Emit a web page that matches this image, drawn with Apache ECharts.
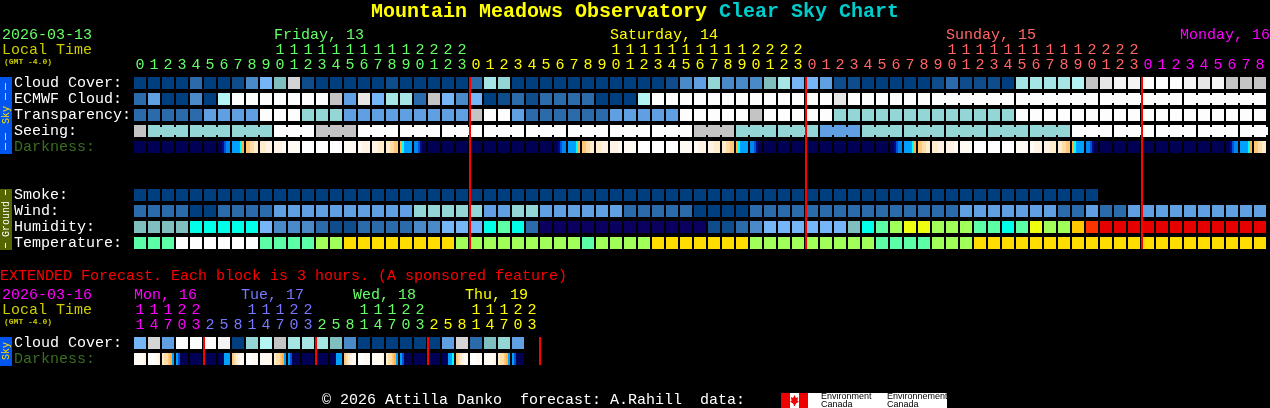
<!DOCTYPE html>
<html>
<head>
<meta charset="utf-8">
<style>html,body{margin:0;padding:0;background:#000;overflow:hidden}#c{width:1270px;height:408px}</style>
<script src="https://cdn.jsdelivr.net/npm/echarts@6/dist/echarts.min.js"></script>
</head>
<body>
<div id="c"></div>
<script>
const FONT = '"Liberation Mono","DejaVu Sans Mono",monospace';

// Colour scale shared by the condition rows (index = condition level).
const levelColors = ['#003f7f','#0e4c8b','#2b6aab','#4a8ac8','#5f9fe2','#76b6f8','#7fbfbf','#94d5d5','#a5e5e5','#b4f4f4',
  '#c4c4c4','#d4d4d4','#e6e6e6','#f4f4f4','#fdfdfd','#0a0060','#00ffe8','#5cffa6','#a0ff58','#eeff10','#ffdd00','#ffc800','#ff3300','#e60000'];
// Colour scale for darkness (index = base-13 character in the strings below).
const darkColors = ['#000055','#000a80','#0050d8','#0088f0','#00a0ff','#00ffff','#ffb040','#ffc878','#ffdca8','#ffeccc','#fff4e4','#fffaf4','#ffffff'];

const rowNames = ['Cloud Cover:','ECMWF Cloud:','Transparency:','Seeing:','Darkness:','','','Smoke:','Wind:','Humidity:','Temperature:'];
const extRowNames = ['Cloud Cover:','Darkness:'];

const hours = ['0','1','2','3','4','5','6','7','8','9','10','11','12','13','14','15','16','17','18','19','20','21','22','23',
  '0','1','2','3','4','5','6','7','8','9','10','11','12','13','14','15','16','17','18','19','20','21','22','23',
  '0','1','2','3','4','5','6','7','8','9','10','11','12','13','14','15','16','17','18','19','20','21','22','23',
  '0','1','2','3','4','5','6','7','8'];
const extHours = ['11','14','17','20','23','2','5','8','11','14','17','20','23','2','5','8','11','14','17','20','23','2','5','8','11','14','17','20','23'];
const hourDayIndex = [0,0,0,0,0,0,0,0,0,0,0,0,0,0,0,0,0,0,0,0,0,0,0,0, 1,1,1,1,1,1,1,1,1,1,1,1,1,1,1,1,1,1,1,1,1,1,1,1,
  2,2,2,2,2,2,2,2,2,2,2,2,2,2,2,2,2,2,2,2,2,2,2,2, 3,3,3,3,3,3,3,3,3];
const dayColors = ['#66ff66','#ffff00','#ff6666','#ff00ff'];
const extDayIndex = [0,0,0,0,0, 1,1,1,1,1,1,1,1, 2,2,2,2,2,2,2,2, 3,3,3,3,3,3,3,3];
const extDayColors = ['#ff00ff','#7777ff','#66ff66','#ffff00'];

const cloudCover = [0,0,0,0,2,0,0,1,3,5, 6,11,1,0,0,0,0,0,1,0, 0,0,0,0,2,8,7,0,0,0, 0,0,0,0,0,0,0,0,1,3,
  4,7,3,3,3,6,8,5,5,4, 1,1,0,0,0,0,0,1,2,1, 1,1,0,8,8,8,8,9,10,12, 13,13,14,14,14,13,12,13,10,10, 10];
const ecmwfCloud = [2,4,0,0,3,0,9,14,14,14, 14,14,14,14,10,4,12,5,8,8, 2,10,5,3,5,0,1,2,1,2, 2,2,2,0,0,0,9,14,14,14,
  14,14,14,14,14,14,14,14,14,14, 12,14,14,14,14,14,14,14,14,14, 14,14,14,14,14,14,14,14,14,14, 14,14,14,14,14,14,14,14,14,14, 14];
const transparency = [2,2,2,2,2,4,4,4,4,14, 14,14,7,7,7,4,4,4,4,4, 4,4,4,4,10,14,14,4,2,2, 2,2,2,2,4,4,4,4,4,14,
  14,14,14,14,10,14,14,14,14,14, 7,7,7,7,7,7,7,7,7,7, 7,7,7,14,14,14,14,14,14,14, 14,14,14,14,14,14,14,14,14,14, 14];
const seeing = [10,7,7,7,7,7,7,7,7,7, 14,14,14,10,10,10,14,14,14,14, 14,14,14,14,14,14,14,14,14,14, 14,14,14,14,14,14,14,14,14,14,
  10,10,10,7,7,7,7,7,7,4, 4,4,7,7,7,7,7,7,7,7, 7,7,7,7,7,7,7,14,14,14, 14,14,14,14,14,14,14,14,14,14, 14];
const darkness = ['0','0','0','0','0','0','001233','444456','778899','999aaa',
  'aaaabb','bbbbbb','cccccc','cccccc','cccccc','bbbbbb','bbaaaa','aaa999','998877','654444',
  '332100','0','0','0','0','0','0','0','0','0',
  '001233','444456','778899','999aaa','aaaabb','bbbbbb','cccccc','cccccc','cccccc','bbbbbb',
  'bbaaaa','aaa999','998877','654444','332100','0','0','0','0','0',
  '0','0','0','0','001233','444456','778899','999aaa','aaaabb','bbbbbb',
  'cccccc','cccccc','cccccc','bbbbbb','bbaaaa','aaa999','998877','654444','332100','0',
  '0','0','0','0','0','0','0','0','001233','444456','778899'];
const smoke = [0,0,0,0,0,0,0,0,0,0, 0,0,0,0,0,0,0,0,0,0, 0,0,0,0,0,0,0,0,0,0, 0,0,0,0,0,0,0,0,0,0,
  0,0,0,0,0,0,0,0,0,0, 0,0,0,0,0,0,0,0,0,0, 0,0,0,0,0,0,0,0,0];
const wind = [2,2,2,2,0,0,2,2,2,2, 4,4,4,4,4,4,4,4,4,4, 7,7,7,7,7,4,4,7,7,4, 4,4,4,4,4,2,2,2,2,2,
  0,0,0,0,2,2,2,2,2,2, 2,2,2,2,2,2,2,2,2,4, 4,4,4,4,4,4,2,2,4,2, 2,4,4,4,4,4,4,4,4,4, 4];
const humidity = [6,6,6,6,16,16,16,16,16,5, 3,3,3,2,1,1,2,2,2,2, 3,3,5,5,5,16,17,16,2,15, 15,15,15,15,15,15,15,15,15,15,
  15,1,1,2,3,5,5,5,5,5, 5,6,16,17,18,19,19,18,18,18, 17,17,16,17,19,18,18,21,22,23, 23,23,23,23,23,23,23,23,23,23, 23];
const temperature = [17,17,17,14,14,14,14,14,14,17, 17,17,17,18,18,20,20,20,20,20, 20,20,20,18,18,18,18,18,18,18, 18,18,17,18,18,18,18,20,20,20,
  20,20,20,20,18,18,18,18,18,18, 18,18,18,17,17,17,17,18,18,18, 20,20,20,20,20,20,20,20,20,20, 20,20,20,20,20,20,20,20,20,20, 20];

const extCloudCover = [5,11,4,14,14,14,13,0,7,9, 10,8,8,8,6,3,0,0,0,0, 0,0,4,11,2,6,7,4];
const extDarkness = ['bbbbba','cccbba','988764','420000','0','0','000444','789abb','cccbbb','bbbbba',
  '988764','420000','0','0','000444','789abb','cccbbb','bbbbba','988764','420000',
  '0','0','000445','789abb','cccbbb','bbbbba','988764','420000'];

// Columns joined to the next one by a narrow bridge (blocks of one model run).
const seeingBlockStarts = [1,4,7,10,13,16,19,22,25,28,31,34,37,40,43,46,49,52,55,58,61,64,67,70,73,76,79];
const seeingBlockSize = 3;
const ecmwfBlockStarts = [57,63,69,75];
const ecmwfBlockSize = 6;
const dayEndColumns = [23,47,71];
const extDayEndColumns = [4,12,20,28];

const titleMain = 'Mountain Meadows Observatory';
const titleSub = 'Clear Sky Chart';

function bridged(col, starts, size){
  return starts.some(s => col >= s && col < s + size - 1) ? 1 : 0;
}
function rowData(values, row, starts, size){
  return values.map((v, i) => [i, row, v, starts ? bridged(i, starts, size) : 0]);
}
function renderCell(params, api){
  const p = api.coord([api.value(0), api.value(1)]);
  const s = api.size([1,1]);
  const x = p[0] - 6, y = p[1] - 6, w = s[0] - 2, h = s[1] - 4;
  const fill = levelColors[api.value(2)];
  const children = [{type:'rect', shape:{x, y, width:w, height:h}, style:{fill}}];
  if (api.value(3)) children.push({type:'rect', shape:{x:x+w, y:y+2, width:2, height:h-4}, style:{fill}});
  return {type:'group', children};
}
function darkRenderer(samples){
  return function(params, api){
    const p = api.coord([api.value(0), api.value(1)]);
    const s = api.size([1,1]);
    const x = p[0] - 6, y = p[1] - 6, w = s[0] - 2, h = s[1] - 4;
    const code = samples[api.value(0)];
    const n = code.length, step = w / n;
    const children = [];
    for (let i = 0; i < n; i++) {
      children.push({type:'rect', shape:{x:x+i*step, y, width:step, height:h},
        style:{fill: darkColors[parseInt(code[i], 13)]}});
    }
    return {type:'group', children};
  };
}
function renderDayLine(params, api){
  const a = api.coord([api.value(0), api.value(1)]);
  const b = api.coord([api.value(0), api.value(2)]);
  const s = api.size([1,1]);
  return {type:'rect', shape:{x:a[0]+s[0]/2, y:a[1]-6, width:2, height:b[1]-a[1]+12}, style:{fill:'#ff0000'}};
}
function customSeries(xi, yi, data, renderItem, z){
  return {type:'custom', xAxisIndex:xi, yAxisIndex:yi, data, renderItem, silent:true, z:z||2, clip:false, animation:false};
}
function hourLabel(h){ return h.length > 1 ? h[0] + '\n' + h[1] : ' \n' + h; }
function xAxisFor(gridIndex, cats, colorFn){
  return {type:'category', gridIndex, position:'top', data:cats, boundaryGap:true,
    axisLine:{show:false}, axisTick:{show:false}, splitLine:{show:false},
    axisLabel:{show:true, interval:0, margin:2, hideOverlap:false, fontFamily:FONT, fontSize:15, lineHeight:15,
      color:(v,i)=>colorFn(i), formatter:hourLabel}};
}
function yAxisFor(gridIndex, cats){
  return {type:'category', gridIndex, inverse:true, data:cats,
    axisLine:{show:false}, axisTick:{show:false}, splitLine:{show:false},
    axisLabel:{show:true, interval:0, align:'left', margin:119, fontFamily:FONT, fontSize:15, padding:[0,0,10,0],
      color:(v)=> v === 'Darkness:' ? '#3a6e20' : '#ffffff'}};
}
function txt(x, y, text, fill, size, extra){
  return Object.assign({type:'text', x, y, silent:true,
    style:Object.assign({text, fill, font:(extra&&extra.weight||'normal')+' '+size+'px '+FONT, verticalAlign:'middle', align:'left'}, extra&&extra.s)}, extra&&extra.e);
}
function rect(x, y, w, h, fill){ return {type:'rect', silent:true, shape:{x, y, width:w, height:h}, style:{fill}}; }
function vtext(cx, cy, text, fill){
  return {type:'text', x:cx, y:cy, rotation:Math.PI/2, silent:true,
    style:{text, fill, font:'10px '+FONT, align:'center', verticalAlign:'middle'}};
}

const graphics = [
  txt(2, 35, '2026-03-13', '#66ff66', 15),
  txt(2, 50, 'Local Time', '#cccc00', 15),
  txt(4, 62, '(GMT -4.0)', '#cccc00', 8, {weight:'bold'}),
  txt(274, 35, 'Friday, 13', '#66ff66', 15),
  txt(610, 35, 'Saturday, 14', '#ffff00', 15),
  txt(946, 35, 'Sunday, 15', '#ff6666', 15),
  txt(1180, 35, 'Monday, 16', '#ff00ff', 15),
  // Sky / Ground side bars
  rect(0, 77, 12, 77, '#0055ee'),
  rect(5, 83, 1, 7, '#ffe000'), rect(5, 93, 1, 7, '#ffe000'), rect(5, 133, 1, 7, '#ffe000'), rect(5, 143, 1, 7, '#ffe000'),
  vtext(6, 115, 'Sky', '#ffe000'),
  rect(0, 189, 12, 61, '#556600'),
  rect(5, 190, 1, 5, '#ffffff'), rect(5, 243, 1, 5, '#ffffff'),
  vtext(6, 219, 'Ground', '#ffffff'),
  // Extended block
  txt(0, 276, 'EXTENDED Forecast. Each block is 3 hours. (A sponsored feature)', '#ff0000', 15),
  txt(2, 295, '2026-03-16', '#ff00ff', 15),
  txt(2, 310, 'Local Time', '#cccc00', 15),
  txt(4, 322, '(GMT -4.0)', '#cccc00', 8, {weight:'bold'}),
  txt(134, 295, 'Mon, 16', '#ff00ff', 15),
  txt(241, 295, 'Tue, 17', '#7777ff', 15),
  txt(353, 295, 'Wed, 18', '#66ff66', 15),
  txt(465, 295, 'Thu, 19', '#ffff00', 15),
  rect(0, 337, 12, 29, '#0055ee'),
  vtext(6, 351, 'Sky', '#ffe000'),
  // Footer
  txt(322, 400, '\u00a9 2026 Attilla Danko  forecast: A.Rahill  data:', '#ffffff', 15),
  rect(781, 393, 166, 15, '#ffffff'),
  rect(781, 393, 9, 15, '#ee0000'),
  rect(799, 393, 9, 15, '#ee0000'),
  {type:'polygon', silent:true, shape:{points:[[794.5,395],[796,398],[798,397],[797.5,401],[799,401.5],[795.5,404],[795,406],[794,406],[793.5,404],[790,401.5],[791.5,401],[791,397],[793,398]]}, style:{fill:'#ee0000'}},
  {type:'text', x:821, y:393, silent:true, style:{text:'Environment\nCanada', fill:'#000', font:'9px "Liberation Sans",sans-serif', lineHeight:8, verticalAlign:'top', align:'left'}},
  {type:'text', x:887, y:393, silent:true, style:{text:'Environnement\nCanada', fill:'#000', font:'9px "Liberation Sans",sans-serif', lineHeight:8, verticalAlign:'top', align:'left'}}
];

const chart = echarts.init(document.getElementById('c'), null, {renderer:'canvas', width:1270, height:408});
chart.setOption({
  animation:false,
  backgroundColor:'#000000',
  title:{left:371, top:0, padding:0, itemGap:0,
    text:'{a|'+titleMain+' }{b|'+titleSub+'}',
    textStyle:{rich:{
      a:{fontFamily:FONT, fontWeight:'bold', fontSize:20, color:'#ffff00', lineHeight:23},
      b:{fontFamily:FONT, fontWeight:'bold', fontSize:20, color:'#00cccc', lineHeight:23}}}},
  grid:[
    {left:133, top:75, width:1134, height:176, containLabel:false},
    {left:133, top:335, width:406, height:32, containLabel:false}
  ],
  xAxis:[
    xAxisFor(0, hours, i => dayColors[hourDayIndex[i]]),
    xAxisFor(1, extHours, i => extDayColors[extDayIndex[i]])
  ],
  yAxis:[ yAxisFor(0, rowNames), yAxisFor(1, extRowNames) ],
  series:[
    customSeries(0,0,rowData(cloudCover,0),renderCell),
    customSeries(0,0,rowData(ecmwfCloud,1,ecmwfBlockStarts,ecmwfBlockSize),renderCell),
    customSeries(0,0,rowData(transparency,2),renderCell),
    customSeries(0,0,rowData(seeing,3,seeingBlockStarts,seeingBlockSize),renderCell),
    customSeries(0,0,darkness.map((d,i)=>[i,4]),darkRenderer(darkness)),
    customSeries(0,0,rowData(smoke,7),renderCell),
    customSeries(0,0,rowData(wind,8),renderCell),
    customSeries(0,0,rowData(humidity,9),renderCell),
    customSeries(0,0,rowData(temperature,10),renderCell),
    customSeries(0,0,dayEndColumns.map(c=>[c,0,10]),renderDayLine,5),
    customSeries(1,1,rowData(extCloudCover,0),renderCell),
    customSeries(1,1,extDarkness.map((d,i)=>[i,1]),darkRenderer(extDarkness)),
    customSeries(1,1,extDayEndColumns.map(c=>[c,0,1]),renderDayLine,5)
  ],
  graphic:{elements:graphics}
});
</script>
</body>
</html>
